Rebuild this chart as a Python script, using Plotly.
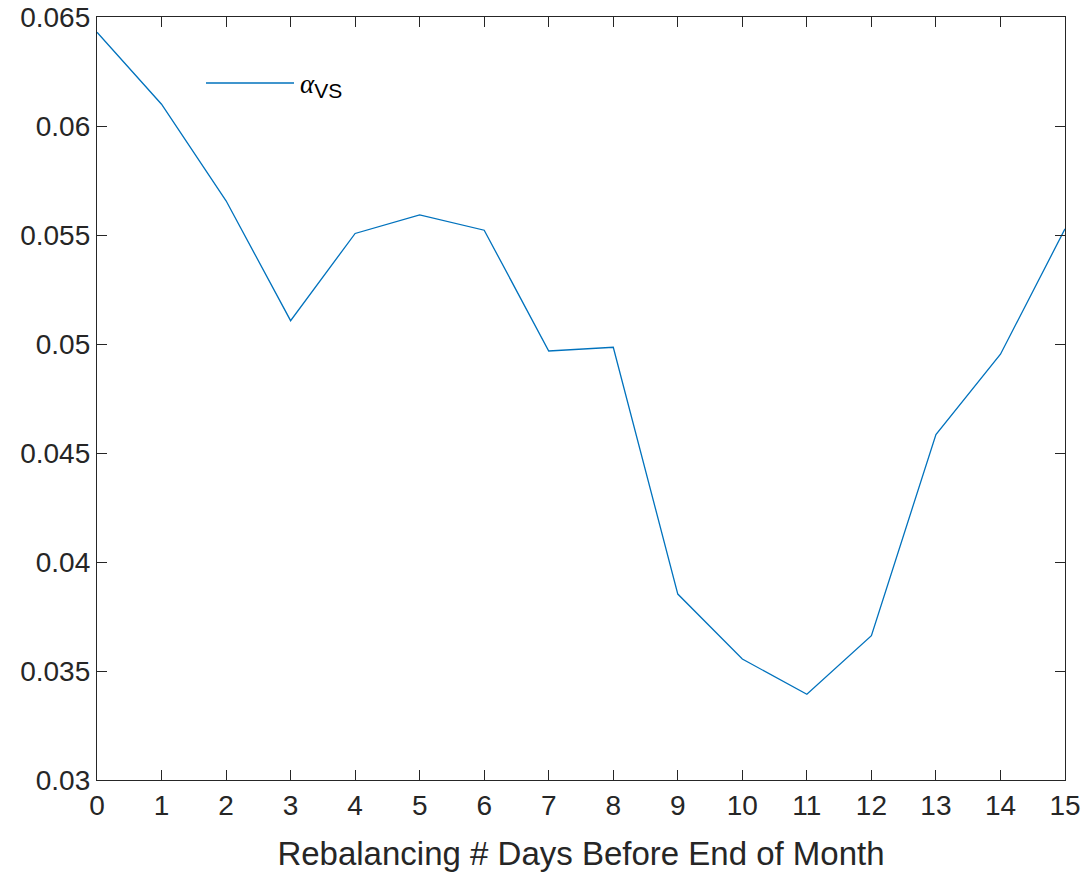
import plotly.graph_objects as go

days = list(range(16))
alpha_vs = [0.06430, 0.06100, 0.05657, 0.05107, 0.05507, 0.05592, 0.05522,
            0.04968, 0.04985, 0.03853, 0.03555, 0.03393, 0.03662, 0.04585,
            0.04953, 0.05528]
x_ticks = list(range(16))
y_ticks = [0.03, 0.035, 0.04, 0.045, 0.05, 0.055, 0.06, 0.065]
y_tick_labels = ["0.03", "0.035", "0.04", "0.045", "0.05", "0.055", "0.06", "0.065"]

AX = "#262626"
BLUE = "#0072BD"
FONT = "Liberation Sans, Arial, Helvetica, sans-serif"

L, R, T, B = 97, 21, 17, 95
PW, PH = 1086 - L - R, 875 - T - B

fig = go.Figure()
fig.add_trace(go.Scatter(x=days, y=alpha_vs, mode="lines",
                         line=dict(color=BLUE, width=1.3),
                         name="α<sub>VS</sub>", showlegend=False))

axis_common = dict(showgrid=False, zeroline=False, showline=True, linecolor=AX,
                   linewidth=1.3, mirror="ticks", ticks="inside", ticklen=10,
                   tickcolor=AX, tickwidth=1.3, automargin=False,
                   ticklabeloverflow="allow",
                   tickfont=dict(family=FONT, size=28, color=AX))

fig.update_layout(
    width=1086, height=875,
    margin=dict(l=L, r=R, t=T, b=B, autoexpand=False),
    paper_bgcolor="white", plot_bgcolor="white",
    xaxis=dict(range=[0, 15], tickvals=x_ticks, ticktext=[str(v) for v in x_ticks],
               title=dict(text="Rebalancing # Days Before End of Month",
                          font=dict(family=FONT, size=33, color=AX), standoff=22),
               **axis_common),
    yaxis=dict(range=[0.03, 0.065], tickvals=y_ticks, ticktext=y_tick_labels,
               **axis_common),
    showlegend=False,
)

# legend drawn manually (MATLAB-style long sample line)
fig.add_shape(type="line", xref="paper", yref="paper",
              x0=(206 - L) / PW, x1=(294 - L) / PW,
              y0=(T + PH - 83) / PH, y1=(T + PH - 83) / PH,
              line=dict(color=BLUE, width=1.3))
fig.add_annotation(xref="paper", yref="paper",
                   x=(298 - L) / PW, y=(T + PH - 86) / PH,
                   xanchor="left", yanchor="middle", showarrow=False,
                   text=("<span style='font-family:Liberation Serif;font-style:italic;font-size:27px'>α</span>"
                         "<sub><span style='font-size:21px'>VS</span></sub>"),
                   font=dict(family=FONT, size=26, color="black"))

fig.write_html("out.html",
               config={"displayModeBar": False},
               post_script="document.body.style.margin='0';document.body.style.overflow='hidden';")
